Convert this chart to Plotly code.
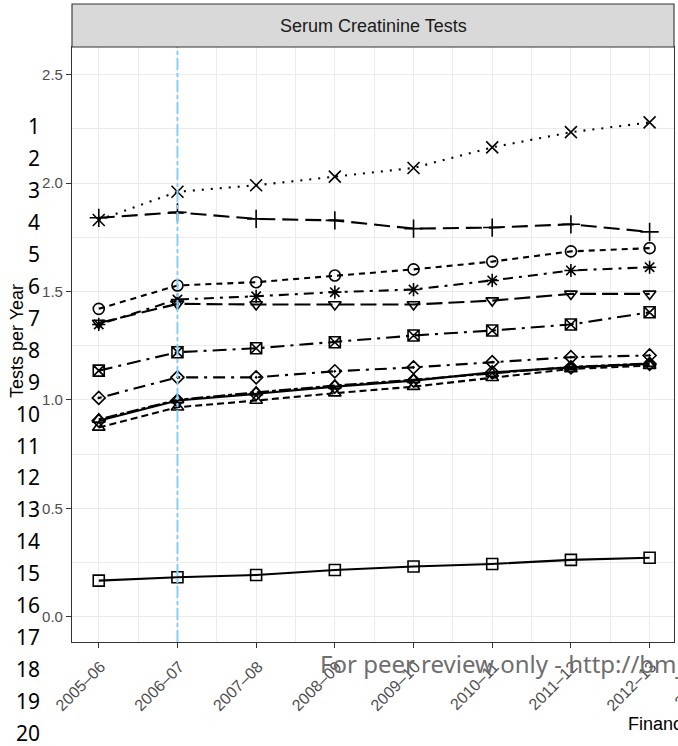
import plotly.graph_objects as go

# ---------------- data ----------------
years = ["2005–06", "2006–07", "2007–08", "2008–09", "2009–10", "2010–11", "2011–12", "2012–13"]

cross_dotted = [1.83, 1.96, 1.99, 2.03, 2.07, 2.165, 2.235, 2.28]
plus_longdash = [1.84, 1.865, 1.835, 1.828, 1.79, 1.795, 1.81, 1.775]
circle_dashed = [1.42, 1.528, 1.543, 1.574, 1.602, 1.638, 1.685, 1.70]
asterisk_dotdash = [1.348, 1.463, 1.478, 1.497, 1.509, 1.551, 1.597, 1.612]
tridown_longdash = [1.355, 1.443, 1.44, 1.44, 1.44, 1.458, 1.489, 1.489]
squarex_twodash = [1.135, 1.22, 1.238, 1.266, 1.297, 1.32, 1.348, 1.404]
diamonddot_dotdash = [1.009, 1.104, 1.104, 1.132, 1.15, 1.174, 1.197, 1.205]
diamond_solid = [0.904, 0.997, 1.028, 1.061, 1.089, 1.127, 1.15, 1.166]
triangle_twodash = [0.91, 1.0, 1.035, 1.066, 1.093, 1.122, 1.152, 1.168]
triangle_dashed = [0.873, 0.966, 0.997, 1.031, 1.061, 1.102, 1.143, 1.158]
square_solid = [0.166, 0.182, 0.192, 0.215, 0.231, 0.243, 0.262, 0.272]

y_ticks = [0.0, 0.5, 1.0, 1.5, 2.0, 2.5]
intervention_year = "2006–07"
panel_title = "Serum Creatinine Tests"
y_title = "Tests per Year"
x_title = "Financial Year"
next_panel_first_label = "2005–06"

series = [
    (square_solid, "square-open", "solid", 11),
    (triangle_dashed, "triangle-up-open", "7px,4px", 11),
    (triangle_twodash, "triangle-up-open", "4px,3px,12px,3px", 11),
    (diamond_solid, "diamond-open", "solid", 10),
    (diamonddot_dotdash, "diamond-open-dot", "3px,6px,12px,6px", 10),
    (squarex_twodash, "square-x-open", "14px,6px,3px,6px", 11),
    (tridown_longdash, "triangle-down-open", "16px,6px", 11),
    (asterisk_dotdash, "asterisk-open", "3px,6px,10px,6px", 11),
    (circle_dashed, "circle-open", "6px,5px", 11),
    (plus_longdash, "cross-thin-open", "16px,7px", 13),
    (cross_dotted, "x-thin-open", "2px,7px", 12),
]

# ---------------- figure ----------------
W, H = 678, 746
L, R, T, B = 72, 4, 47, 104
pw, ph = W - L - R, H - T - B

def px2x(px):
    return (px - L) / pw

def py2y(py):
    return (H - B - py) / ph

xi = list(range(len(years)))

fig = go.Figure()
for vals, sym, dash, size in series:
    fig.add_trace(go.Scatter(
        x=xi, y=vals, mode="lines+markers",
        line=dict(color="black", width=2.1, dash=dash),
        marker=dict(symbol=sym, size=size, color="black",
                    line=dict(color="black", width=1.6)),
        showlegend=False, hoverinfo="skip",
    ))

grid = "#EBEBEB"
dark = "#333333"

fig.update_layout(
    width=W, height=H,
    margin=dict(l=L, r=R, t=T, b=B, pad=0),
    paper_bgcolor="white", plot_bgcolor="white",
    font=dict(family="Liberation Sans, Arial, sans-serif", color="black"),
    xaxis=dict(
        range=[-0.34, 7.31], tickmode="array", tickvals=xi, ticktext=years,
        tickangle=-45, tickfont=dict(size=16, color="#4D4D4D"),
        ticklabelstandoff=3, ticklabelshift=2,
        showgrid=True, gridcolor=grid, gridwidth=1.1,
        minor=dict(dtick=0.5, tick0=0, showgrid=True, gridcolor=grid, gridwidth=0.6, ticks=""),
        ticks="outside", ticklen=5, tickwidth=1.1, tickcolor=dark,
        showline=True, mirror=True, linecolor=dark, linewidth=1.1, zeroline=False,
        automargin=False,
    ),
    yaxis=dict(
        range=[-0.117, 2.628], tickmode="array", tickvals=y_ticks,
        ticktext=[f"{v:.1f}" for v in y_ticks],
        tickfont=dict(size=15, color="#4D4D4D"),
        showgrid=True, gridcolor=grid, gridwidth=1.1,
        minor=dict(dtick=0.25, tick0=0, showgrid=True, gridcolor=grid, gridwidth=0.6, ticks=""),
        ticks="outside", ticklen=5, tickwidth=1.1, tickcolor=dark,
        showline=True, mirror=True, linecolor=dark, linewidth=1.1, zeroline=False,
        automargin=False,
    ),
)

# intervention line
fig.add_shape(type="line", xref="x", yref="paper",
              x0=years.index(intervention_year), x1=years.index(intervention_year),
              y0=0, y1=1, layer="above",
              line=dict(color="#87CEFA", width=2, dash="12px,3px,4px,3px"))

# strip
fig.add_shape(type="rect", xref="paper", yref="paper",
              x0=0, x1=1, y0=1, y1=py2y(4),
              fillcolor="#D9D9D9", line=dict(color=dark, width=1.1), layer="above")
fig.add_annotation(xref="paper", yref="paper", x=0.5, y=py2y(26),
                   text=panel_title, showarrow=False,
                   font=dict(size=18, color="#1A1A1A"), xanchor="center", yanchor="middle")

# axis titles
fig.add_annotation(xref="paper", yref="paper", x=px2x(17), y=py2y(341),
                   text=y_title, textangle=-90, showarrow=False,
                   font=dict(size=18, color="black"), xanchor="center", yanchor="middle")
fig.add_annotation(xref="paper", yref="paper", x=px2x(626), y=py2y(724),
                   text=x_title, showarrow=False,
                   font=dict(size=18, color="black"), xanchor="left", yanchor="middle")

# first tick label of the neighbouring (cropped) panel
fig.add_annotation(xref="paper", yref="paper", x=px2x(699), y=py2y(682),
                   text=next_panel_first_label, textangle=-45, showarrow=False,
                   font=dict(size=16, color="#4D4D4D"), xanchor="center", yanchor="middle")

# line numbers overlay
for n in range(1, 21):
    fig.add_annotation(xref="paper", yref="paper", x=px2x(42), y=py2y(126 + 31.95 * (n - 1)),
                       text=str(n), showarrow=False,
                       font=dict(family="Noto Sans", size=21, color="black"),
                       xanchor="right", yanchor="middle")

fig.add_annotation(xref="paper", yref="paper", x=px2x(318), y=py2y(663),
                   text="For peer review only - http://bmjopen.bmj.com/site/about/guidelines.xhtml",
                   showarrow=False, font=dict(family="Noto Sans", size=24, color="#6E6E6E"),
                   xanchor="left", yanchor="middle")

fig.write_html("out.html", config={"displayModeBar": False},
               post_script="document.body.style.margin='0';document.body.style.overflow='hidden';")
